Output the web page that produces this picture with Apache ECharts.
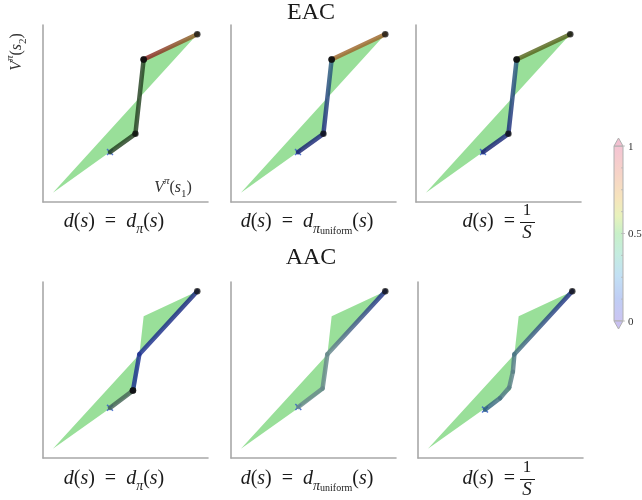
<!DOCTYPE html>
<html><head><meta charset="utf-8">
<script src="https://cdn.jsdelivr.net/npm/echarts@6/dist/echarts.min.js"></script>
<style>html,body{margin:0;padding:0;background:#fff}#c{width:642px;height:500px}</style>
</head><body><div id="c"></div>
<script>
// ---------------- DATA ----------------
// value polytope vertices (V(s1), V(s2)), same in all panels
const polytopeX = [6, 56, 61, 93.5];
const polytopeY = [5.2, 38.5, 80.5, 94.8];

// EAC trajectories (x, y, colour value, dwell flag)
const eacDpiX = [40.6, 56, 61, 61, 93.5];
const eacDpiY = [28.2, 38.5, 80.5, 80.5, 94.8];
const eacDpiC = [0.5, 0.5, 0.5, 1.0, 0.75];
const eacDpiDwell = [0, 1, 1, 1, 1];

const eacUniX = [40.6, 56, 61, 61, 93.5];
const eacUniY = [28.2, 38.5, 80.5, 80.5, 94.8];
const eacUniC = [0.06, 0.1, 0.3, 0.8, 0.8];
const eacUniDwell = [0, 1, 1, 1, 1];

const eacInvX = [40.6, 56, 61, 61, 93.5];
const eacInvY = [28.2, 38.5, 80.5, 80.5, 94.8];
const eacInvC = [0.06, 0.1, 0.3, 0.6, 0.6];
const eacInvDwell = [0, 1, 1, 1, 1];

// AAC trajectories
const aacDpiX = [40.6, 54.5, 54.5, 58.4, 93.5];
const aacDpiY = [28.5, 38.3, 38.3, 58.9, 94.8];
const aacDpiC = [0.45, 0.45, 0.15, 0.15, 0.1];
const aacDpiDwell = [0, 1, 1, 0, 1];

const aacUniX = [40.8, 55.5, 58.4, 93.5];
const aacUniY = [29, 39.5, 58.9, 94.8];
const aacUniC = [0.4, 0.4, 0.4, 0.12];
const aacUniDwell = [0, 0, 0, 1];

const aacInvX = [40.6, 49.7, 55.3, 57.5, 58.4, 93.5];
const aacInvY = [27.5, 34, 40, 49, 58.9, 94.8];
const aacInvC = [0.3, 0.35, 0.38, 0.38, 0.35, 0.12];
const aacInvDwell = [0, 0, 0, 0, 0, 1];

const rowTitles = ['EAC', 'AAC'];
const colorbarTicks = ['1', '0.5', '0'];

// ---------------- LAYOUT / STYLE ----------------
const trajectories = [
  [eacDpiX, eacDpiY, eacDpiC, eacDpiDwell],
  [eacUniX, eacUniY, eacUniC, eacUniDwell],
  [eacInvX, eacInvY, eacInvC, eacInvDwell],
  [aacDpiX, aacDpiY, aacDpiC, aacDpiDwell],
  [aacUniX, aacUniY, aacUniC, aacUniDwell],
  [aacInvX, aacInvY, aacInvC, aacInvDwell]
];
const gridLefts = [43, 231, 416, 43, 231, 418];
const gridTops = [25, 25, 25, 282, 282, 282];
const gridW = 165, gridH = 177;
const SERIF = "'Liberation Serif','DejaVu Serif',serif";
const TXT = '#1a1a1a';

const trajStops = [[0,'#151a55'],[0.15,'#1c3090'],[0.3,'#285e7a'],[0.4,'#66888a'],[0.5,'#22401f'],[0.6,'#56661c'],[0.8,'#9c662a'],[1,'#8a2020']];
function hex2rgb(h){return [parseInt(h.substr(1,2),16),parseInt(h.substr(3,2),16),parseInt(h.substr(5,2),16)];}
function cmap(v){
  for (let i=0;i<trajStops.length-1;i++){
    const a=trajStops[i], b=trajStops[i+1];
    if (v<=b[0]){
      const t=(v-a[0])/(b[0]-a[0]); const ca=hex2rgb(a[1]), cb=hex2rgb(b[1]);
      return 'rgb('+ca.map((c,k)=>Math.round(c+(cb[k]-c)*t)).join(',')+')';
    }
  }
  return trajStops[trajStops.length-1][1];
}

const grids=[], xAxes=[], yAxes=[], series=[];
const axisLine = {show:true, onZero:false, lineStyle:{color:'#a8a8a8', width:1.6}};
for (let g=0; g<6; g++){
  grids.push({left:gridLefts[g], top:gridTops[g], width:gridW, height: g<3?gridH:176});
  xAxes.push({type:'value', gridIndex:g, min:0, max:100, position:'bottom', axisLine, axisTick:{show:false}, axisLabel:{show:false}, splitLine:{show:false}});
  yAxes.push({type:'value', gridIndex:g, min:0, max:100, position:'left', axisLine, axisTick:{show:false}, axisLabel:{show:false}, splitLine:{show:false}});
  // polytope
  const polyItem = [];
  polytopeX.forEach((x,i)=>{polyItem.push(x, polytopeY[i]);});
  series.push({type:'custom', xAxisIndex:g, yAxisIndex:g, silent:true, z:1, data:[polyItem],
    renderItem(params, api){
      const pts=[];
      for(let i=0;i<polytopeX.length;i++) pts.push(api.coord([api.value(2*i), api.value(2*i+1)]));
      return {type:'polygon', shape:{points:pts}, style:{fill:'#8edc8e', opacity:0.9}};
    }});
  // trajectory
  const [tx,ty,tc,td] = trajectories[g];
  const segs=[];
  for (let i=0;i<tx.length-1;i++) segs.push([tx[i],ty[i],tx[i+1],ty[i+1],tc[i],tc[i+1]]);
  series.push({type:'custom', xAxisIndex:g, yAxisIndex:g, silent:true, z:3, data:segs,
    renderItem(params, api){
      const p1=api.coord([api.value(0),api.value(1)]);
      const p2=api.coord([api.value(2),api.value(3)]);
      const grad = new echarts.graphic.LinearGradient(p1[0],p1[1],p2[0]+0.01,p2[1]+0.01,
        [{offset:0,color:cmap(api.value(4))},{offset:1,color:cmap(api.value(5))}], true);
      return {type:'line', shape:{x1:p1[0],y1:p1[1],x2:p2[0],y2:p2[1]},
        style:{stroke:grad, lineWidth:4.5, lineCap:'round', opacity:0.82}};
    }});
  // dwell (dense) points
  const dw=[];
  td.forEach((d,i)=>{ if(d) dw.push([tx[i],ty[i]]); });
  series.push({type:'scatter', xAxisIndex:g, yAxisIndex:g, silent:true, z:4, data:dw,
    symbol:'circle', symbolSize:6.5, itemStyle:{color:'#0d0d0d', opacity:0.75}});
  // start marker
  series.push({type:'scatter', xAxisIndex:g, yAxisIndex:g, silent:true, z:2, data:[[tx[0],ty[0]]],
    symbol:'path://M0,1.5L1.5,0L5,3.5L8.5,0L10,1.5L6.5,5L10,8.5L8.5,10L5,6.5L1.5,10L0,8.5L3.5,5Z',
    symbolSize:7, itemStyle:{color:'#3862c8', opacity:0.85}});
}

// ---------------- TEXT ----------------
const FS = 20;
const rich = {
  r:{fontFamily:SERIF, fontSize:FS, lineHeight:28, fill:TXT},
  i:{fontFamily:SERIF, fontSize:FS, fontStyle:'italic', lineHeight:28, fill:TXT},
  sub:{fontFamily:SERIF, fontSize:14, fontStyle:'italic', lineHeight:14, verticalAlign:'bottom', fill:TXT},
  ss:{fontFamily:SERIF, fontSize:10, lineHeight:6, verticalAlign:'bottom', fill:TXT},
  ri:{fontFamily:SERIF, fontSize:16, lineHeight:24, fill:'#333'},
  ii:{fontFamily:SERIF, fontSize:16, fontStyle:'italic', lineHeight:24, fill:'#333'},
  sup:{fontFamily:SERIF, fontSize:11, fontStyle:'italic', lineHeight:12, verticalAlign:'top', fill:'#333'},
  sb:{fontFamily:SERIF, fontSize:11, lineHeight:12, verticalAlign:'bottom', fill:'#333'}
};
const EQ = '\u2002=\u2002';
const L1 = '{i|d}{r|(}{i|s}{r|)'+EQ+'}{i|d}{sub|π}{r|(}{i|s}{r|)}';
const L2 = '{i|d}{r|(}{i|s}{r|)'+EQ+'}{i|d}{sub|π}{ss|uniform}{r|(}{i|s}{r|)}';
const L3 = '{i|d}{r|(}{i|s}{r|)'+EQ.slice(0,2)+'}';
const graphics = [];
function txt(x,y,text,align,extra){
  graphics.push(Object.assign({type:'text', x, y, silent:true,
    style:{text, rich, align:align||'center', verticalAlign:'middle', fill:TXT}}, extra||{}));
}
const rowLabelY = [222, 479];
rowTitles.forEach((t,r)=>{
  graphics.push({type:'text', x:311, y: r===0?13:258, silent:true,
    style:{text:t, fontFamily:SERIF, fontSize:24, fill:TXT, align:'center', verticalAlign:'middle'}});
  const y=rowLabelY[r];
  txt(114, y, L1);
  txt(307, y, L2);
  txt(515, y, L3, 'right');
  graphics.push({type:'text', x:527, y:y-11, silent:true, style:{text:'1', fontFamily:SERIF, fontSize:17, fill:TXT, align:'center', verticalAlign:'middle'}});
  graphics.push({type:'line', silent:true, shape:{x1:520,y1:y+0.5,x2:535,y2:y+0.5}, style:{stroke:TXT, lineWidth:1}});
  graphics.push({type:'text', x:527, y:y+11, silent:true, style:{text:'S', fontFamily:SERIF, fontSize:19, fontStyle:'italic', fill:TXT, align:'center', verticalAlign:'middle'}});
});
// axis labels (first panel)
txt(173, 188, '{ii|V}{sup|π}{ri|(}{ii|s}{sb|1}{ri|)}');
txt(17, 52, '{ii|V}{sup|π}{ri|(}{ii|s}{sb|2}{ri|)}', 'center', {rotation:Math.PI/2});

// colorbar
const cbX=614, cbTop=146, cbH=175, cbW=9;
graphics.push({type:'rect', silent:true, shape:{x:cbX,y:cbTop,width:cbW,height:cbH},
  style:{fill:new echarts.graphic.LinearGradient(0,0,0,1,[
    {offset:0,color:'#f4c4d4'},{offset:0.15,color:'#f6d2c8'},{offset:0.3,color:'#f6e4bc'},
    {offset:0.4,color:'#e8f2bc'},{offset:0.5,color:'#c8f0c8'},{offset:0.62,color:'#c4ece0'},
    {offset:0.74,color:'#c2e0f4'},{offset:0.87,color:'#bfcdf4'},{offset:1,color:'#cbc4f2'}]),
    stroke:'#b0b0b0', lineWidth:1}});
graphics.push({type:'polygon', silent:true, shape:{points:[[cbX,cbTop],[cbX+cbW,cbTop],[cbX+cbW/2,cbTop-8]]}, style:{fill:'#f2c0d0', stroke:'#b0b0b0', lineWidth:1}});
graphics.push({type:'polygon', silent:true, shape:{points:[[cbX,cbTop+cbH],[cbX+cbW,cbTop+cbH],[cbX+cbW/2,cbTop+cbH+8]]}, style:{fill:'#c8c0f0', stroke:'#b0b0b0', lineWidth:1}});
for (let k=0;k<=8;k++){
  const yy=cbTop+cbH*k/8;
  graphics.push({type:'line', silent:true, shape:{x1:cbX+cbW-2,y1:yy,x2:cbX+cbW+(k%4===0?2:0),y2:yy}, style:{stroke:'#b8b8b8', lineWidth:0.8}});
}
colorbarTicks.forEach((t,k)=>{
  graphics.push({type:'text', x:cbX+cbW+5, y:cbTop+cbH*k/2+1, silent:true,
    style:{text:t, fontFamily:SERIF, fontSize:11, fill:'#333', align:'left', verticalAlign:'middle'}});
});

const chart = echarts.init(document.getElementById('c'), null, {renderer:'canvas'});
chart.setOption({animation:false, backgroundColor:'#fff', grid:grids, xAxis:xAxes, yAxis:yAxes, series, graphic:graphics});
</script></body></html>
